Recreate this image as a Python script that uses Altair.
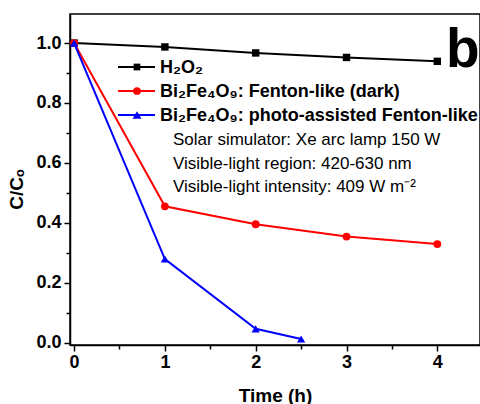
import altair as alt
import pandas as pd

# ---- data ----
time_h2o2 = [0, 1, 2, 3, 4]
c_h2o2 = [1.0, 0.987, 0.967, 0.952, 0.939]
time_dark = [0, 1, 2, 3, 4]
c_dark = [1.0, 0.455, 0.395, 0.354, 0.329]
time_photo = [0, 1, 2, 2.5]
c_photo = [1.0, 0.279, 0.046, 0.012]

series_names = ["H₂O₂", "Bi₂Fe₄O₉: Fenton-like (dark)", "Bi₂Fe₄O₉: photo-assisted Fenton-like"]
series_colors = ["#000000", "#ff0000", "#0000ff"]
series_shapes = ["square", "circle", "triangle-up"]
series_sizes = [55, 68, 100]
legend_sizes = [45, 60, 80]

x_ticks = [0, 1, 2, 3, 4]
x_minor = [0.5, 1.5, 2.5, 3.5]
y_ticks = [0.0, 0.2, 0.4, 0.6, 0.8, 1.0]
y_minor = [0.1, 0.3, 0.5, 0.7, 0.9]

notes = ["Solar simulator: Xe arc lamp 150 W",
         "Visible-light region: 420-630 nm",
         "Visible-light intensity: 409 W m⁻²"]
panel_letter = "b"

FONT = "Liberation Sans"

rows = []
for name, ts, cs in zip(series_names, [time_h2o2, time_dark, time_photo], [c_h2o2, c_dark, c_photo]):
    for t, c in zip(ts, cs):
        rows.append({"series": name, "time": t, "c": c})
df = pd.DataFrame(rows)

xscale = alt.Scale(domain=[-0.045, 4.47], nice=False, zero=False)
yscale = alt.Scale(domain=[-0.008, 1.097], nice=False, zero=False)
cscale = alt.Scale(domain=series_names, range=series_colors)
sscale = alt.Scale(domain=series_names, range=series_shapes)
zscale = alt.Scale(domain=series_names, range=series_sizes)

x_main = alt.X("time:Q", scale=xscale,
               axis=alt.Axis(values=x_ticks, format="d", title="Time (h)", tickSize=6,
                             labelPadding=2, grid=False, titleY=56,
                             titleBaseline="alphabetic", titleFontSize=19))
y_main = alt.Y("c:Q", scale=yscale,
               axis=alt.Axis(values=y_ticks, format=".1f", title="C/Cₒ", tickSize=6,
                             labelPadding=3, grid=False, titleX=-48, titleY=175,
                             titleAngle=270, titleBaseline="alphabetic",
                             titleAlign="center", titleFontSize=19))

base = alt.Chart(df)
lines = base.mark_line(strokeWidth=2).encode(
    x=x_main, y=y_main,
    color=alt.Color("series:N", scale=cscale, legend=None),
    detail="series:N")
points = base.mark_point(filled=True, opacity=1).encode(
    x="time:Q", y="c:Q",
    color=alt.Color("series:N", scale=cscale, legend=None),
    shape=alt.Shape("series:N", scale=sscale, legend=None),
    size=alt.Size("series:N", scale=zscale, legend=None))

layers = [lines, points]

# manual legend (positions relative to the plot area's top-left corner)
legend_y = [53, 77, 101]
for name, col, shp, sz, ly in zip(series_names, series_colors, series_shapes, legend_sizes, legend_y):
    ldf = pd.DataFrame({"label": [name]})
    lc = alt.Chart(ldf)
    layers.append(lc.mark_rule(color=col, strokeWidth=2).encode(
        x=alt.value(48), x2=alt.value(85), y=alt.value(ly)))
    layers.append(lc.mark_point(shape=shp, filled=True, color=col, opacity=1, size=sz).encode(
        x=alt.value(67), y=alt.value(ly)))
    layers.append(lc.mark_text(align="left", baseline="middle", font=FONT, fontSize=18,
                               fontWeight="bold", color="#000").encode(
        x=alt.value(90), y=alt.value(ly + 1), text="label:N"))

note_y = [126, 150, 173]
for note, ny in zip(notes, note_y):
    ndf = pd.DataFrame({"label": [note]})
    layers.append(alt.Chart(ndf).mark_text(align="left", baseline="middle", font=FONT,
                                           fontSize=17, color="#000").encode(
        x=alt.value(103), y=alt.value(ny), text="label:N"))

layers.append(alt.Chart(pd.DataFrame({"label": [panel_letter]})).mark_text(
    align="left", baseline="alphabetic", font=FONT, fontSize=55, fontWeight="bold",
    color="#000").encode(x=alt.value(376), y=alt.value(53), text="label:N"))

main = alt.layer(*layers)

minor = base.mark_point(opacity=0).encode(
    x=alt.X("time:Q", scale=xscale,
            axis=alt.Axis(values=x_minor, orient="bottom", labels=False, tickSize=4,
                          domain=False, title=None, grid=False)),
    y=alt.Y("c:Q", scale=yscale,
            axis=alt.Axis(values=y_minor, orient="left", labels=False, tickSize=4,
                          domain=False, title=None, grid=False)))

chart = alt.layer(main, minor).resolve_scale(x="independent", y="independent").properties(
    width=410, height=331,
    autosize=alt.AutoSizeParams(type="none"),
    padding={"left": 70, "top": 14, "right": 0, "bottom": 59},
    background="white",
).configure_view(stroke="#000", strokeWidth=1.5).configure_axis(
    labelFont=FONT, labelFontSize=18, labelFontWeight="bold", labelColor="#000",
    titleFont=FONT, titleFontWeight="bold", titleColor="#000",
    domainColor="#000", domainWidth=1.5, tickColor="#000", tickWidth=1.5,
)

chart.save("out.html", embed_options={"renderer": "svg", "actions": False})
